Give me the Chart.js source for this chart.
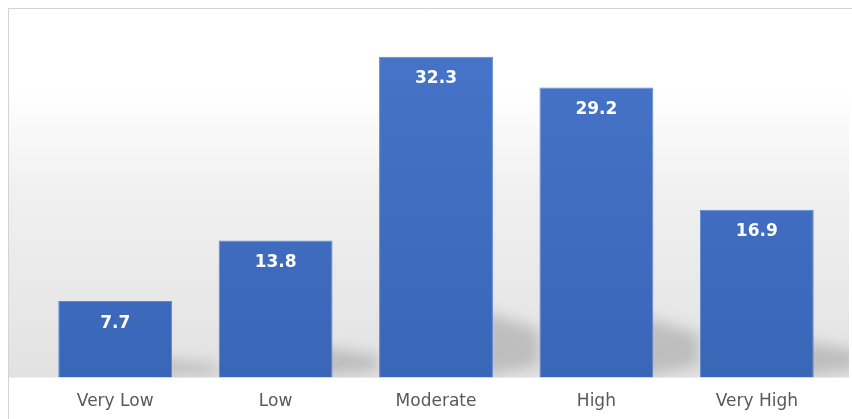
<!DOCTYPE html>
<html>
<head>
<meta charset="utf-8">
<script src="https://cdn.jsdelivr.net/npm/chart.js@4"></script>
<style>
  html, body { margin: 0; padding: 0; background: #fff; }
  #wrap { width: 852px; height: 419px; position: relative; }
</style>
</head>
<body>
<div id="wrap"><canvas id="levelChart" width="852" height="419"></canvas></div>
<script>
// chart data
const categories = ["Very Low", "Low", "Moderate", "High", "Very High"];
const values = [7.7, 13.8, 32.3, 29.2, 16.9];

// frame + floor gradient behind the bars
const backdropPlugin = {
    id: "backdrop",
    beforeDraw(chart) {
        const { ctx, chartArea } = chart;
        const bottom = chartArea.bottom;
        ctx.save();
        ctx.fillStyle = "#ffffff";
        ctx.fillRect(0, 0, chart.width, chart.height);

        const grad = ctx.createLinearGradient(0, 90, 0, bottom);
        grad.addColorStop(0, "rgba(255,255,255,1)");
        grad.addColorStop(0.35, "rgba(240,240,240,1)");
        grad.addColorStop(1, "rgba(226,226,226,1)");
        ctx.fillStyle = grad;
        ctx.fillRect(9, 90, chart.width - 12, bottom - 90);

        ctx.strokeStyle = "#d4d4d4";
        ctx.lineWidth = 1;
        ctx.beginPath();
        ctx.moveTo(8.5, chart.height);
        ctx.lineTo(8.5, 8.5);
        ctx.lineTo(chart.width, 8.5);
        ctx.stroke();
        ctx.restore();
    },
    beforeDatasetsDraw(chart) {
        // soft shadow trailing to the right of each bar
        const { ctx, chartArea } = chart;
        const meta = chart.getDatasetMeta(0);
        ctx.save();
        ctx.beginPath();
        ctx.rect(9, 0, chart.width - 12, chartArea.bottom);
        ctx.clip();
        ctx.filter = "blur(7px)";
        ctx.fillStyle = "rgba(80,80,80,0.26)";
        meta.data.forEach(bar => {
            const right = bar.x + bar.width / 2;
            const h = bar.base - bar.y;
            const sh = h * 0.2 + 3;
            const ext = 46;
            ctx.beginPath();
            ctx.moveTo(right - 12, bar.base - 2);
            ctx.lineTo(right - 12, bar.base - sh);
            ctx.lineTo(right + ext, bar.base - sh * 0.72);
            ctx.lineTo(right + ext, bar.base - Math.min(12, sh * 0.25));
            ctx.closePath();
            ctx.fill();
        });
        ctx.restore();
    },
    afterDatasetsDraw(chart) {
        // value labels inside top of bars
        const { ctx } = chart;
        const meta = chart.getDatasetMeta(0);
        ctx.save();
        ctx.fillStyle = "#ffffff";
        ctx.font = "bold 17px 'DejaVu Sans'";
        ctx.textAlign = "center";
        ctx.textBaseline = "middle";
        meta.data.forEach((bar, i) => {
            ctx.fillText(values[i].toFixed(1), bar.x, bar.y + 22);
        });
        ctx.restore();
    }
};

const ctx = document.getElementById("levelChart");
const g = ctx.getContext("2d").createLinearGradient(0, 10, 0, 377);
g.addColorStop(0, "#4775c9");
g.addColorStop(1, "#3a66b8");

new Chart(ctx, {
    type: "bar",
    data: {
        labels: categories,
        datasets: [{
            data: values,
            backgroundColor: g,
            borderColor: "#5b86d3",
            borderWidth: 1,
            categoryPercentage: 0.71,
            barPercentage: 1
        }]
    },
    options: {
        responsive: false,
        animation: false,
        layout: { padding: { top: 10, left: 35, right: 15, bottom: -7 } },
        plugins: {
            legend: { display: false },
            tooltip: { enabled: false }
        },
        scales: {
            x: {
                grid: { display: false, drawTicks: false },
                border: { display: false },
                ticks: {
                    color: "#595959",
                    padding: 14,
                    font: { family: "DejaVu Sans", size: 17 }
                }
            },
            y: {
                display: false,
                min: 0,
                max: 37
            }
        }
    },
    plugins: [backdropPlugin]
});
</script>
</body>
</html>
